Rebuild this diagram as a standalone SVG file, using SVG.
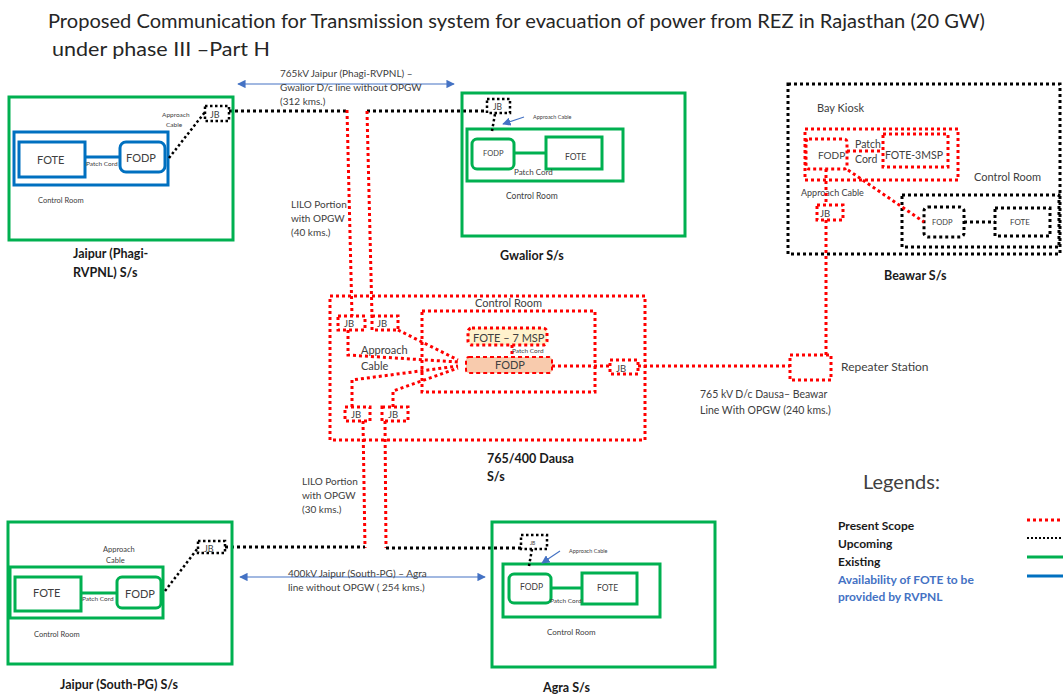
<svg xmlns="http://www.w3.org/2000/svg" width="1063" height="695" viewBox="0 0 1063 695">
<defs>
<style>
text{font-family:Lato,"Liberation Sans",sans-serif;fill:#404040}
.t{font-size:19.5px;fill:#262626}
.b{font-weight:bold;fill:#1a1a1a}
.g{fill:none;stroke:#00b050;stroke-width:3}
.bl{fill:none;stroke:#0070c0;stroke-width:3}
.r{fill:none;stroke:#ff0000;stroke-width:3;stroke-dasharray:3 3}
.k{fill:none;stroke:#000;stroke-width:3;stroke-dasharray:3 3}
.kt{fill:none;stroke:#000;stroke-width:2.5;stroke-dasharray:2.5 2.5}
.ar{stroke:#4472c4;stroke-width:1.2;fill:none}
</style>
<marker id="ah" viewBox="0 0 10 10" refX="9" refY="5" markerWidth="7" markerHeight="7" orient="auto-start-reverse">
<path d="M0,0 L10,5 L0,10 z" fill="#4472c4"/>
</marker>
</defs>
<rect width="1063" height="695" fill="#fff"/>

<text class="t" x="48" y="28" textLength="937" lengthAdjust="spacingAndGlyphs">Proposed Communication for Transmission system for evacuation of power from REZ in Rajasthan (20 GW)</text>
<text class="t" x="52" y="56" textLength="218" lengthAdjust="spacingAndGlyphs">under phase III –Part H</text>

<g id="connectors">
<path class="k" d="M229,111 H347"/>
<path class="k" d="M367,111 H487"/>
<path class="r" d="M347,110 L352,316"/>
<path class="r" d="M367,111 L372,316"/>
<path class="r" d="M363,421 L365,548"/>
<path class="r" d="M385,421 L386,548"/>
<path class="k" d="M225,547 H365"/>
<path class="k" d="M386,548 H522"/>
<path class="r" d="M552,366 H610"/>
<path class="r" d="M638,366 H790"/>
<path class="r" d="M826,355 V220"/>
<line class="ar" x1="238" y1="84" x2="454" y2="84" marker-start="url(#ah)" marker-end="url(#ah)"/>
<line class="ar" x1="240" y1="577" x2="485" y2="577" marker-start="url(#ah)" marker-end="url(#ah)"/>
</g>

<text x="280" y="77" font-size="10">765kV Jaipur (Phagi-RVPNL) –</text>
<text x="280" y="91" font-size="10">Gwalior  D/c line without OPGW</text>
<text x="280" y="105" font-size="10">(312 kms.)</text>
<text x="291" y="208" font-size="10">LILO Portion</text>
<text x="291" y="222" font-size="10">with OPGW</text>
<text x="291" y="236" font-size="10">(40 kms.)</text>
<text x="302" y="485" font-size="10">LILO Portion</text>
<text x="302" y="499" font-size="10">with OPGW</text>
<text x="302" y="513" font-size="10">(30 kms.)</text>
<text x="288" y="577" font-size="10">400kV Jaipur (South-PG) – Agra</text>
<text x="288" y="591" font-size="10">line without OPGW ( 254 kms.)</text>
<text x="700" y="398" font-size="10.5">765 kV D/c Dausa– Beawar</text>
<text x="700" y="414" font-size="10.5">Line With  OPGW (240 kms.)</text>

<g id="jaipur-phagi">
<rect class="g" x="9" y="97" width="224" height="143"/>
<rect class="bl" x="14" y="132" width="154" height="53"/>
<rect class="bl" x="19" y="142" width="66" height="35"/>
<rect class="bl" x="120" y="142" width="45" height="30" rx="6"/>
<line class="bl" x1="85" y1="157" x2="120" y2="157"/>
<text x="37" y="164" font-size="11">FOTE</text>
<text x="126" y="162" font-size="11">FODP</text>
<text x="86" y="166" font-size="6.5">Patch Cord</text>
<text x="38" y="203" font-size="7.5">Control Room</text>
<text x="162" y="117" font-size="6.5">Approach</text>
<text x="166" y="127" font-size="6.5">Cable</text>
<path class="kt" d="M205,106 H229 V121 H205 Z"/>
<text x="210" y="118" font-size="9">JB</text>
<path class="kt" d="M169,158 L205,112"/>
<text x="73" y="258" font-size="12.5" class="b">Jaipur (Phagi-</text>
<text x="73" y="277" font-size="12.5" class="b">RVPNL) S/s</text>
</g>

<g id="gwalior">
<rect class="g" x="462" y="93" width="223" height="143"/>
<rect class="g" x="467" y="129" width="156" height="52"/>
<rect class="g" x="472" y="139" width="42" height="30" rx="5"/>
<rect class="g" x="546" y="137" width="56" height="32"/>
<line class="g" x1="514" y1="153" x2="546" y2="153"/>
<text x="483" y="156" font-size="7.5">FODP</text>
<text x="565" y="160" font-size="8.5">FOTE</text>
<text x="514" y="175" font-size="8">Patch Cord</text>
<text x="506" y="199" font-size="8.5">Control Room</text>
<path class="kt" d="M487,99 H510 V113 H487 Z"/>
<text x="493" y="110" font-size="8.5">JB</text>
<path class="kt" d="M495,114 L492,131"/>
<line class="ar" x1="524" y1="117" x2="503" y2="124" marker-end="url(#ah)"/>
<text x="533" y="119" font-size="5.5">Approach Cable</text>
<text x="500" y="260" font-size="12.5" class="b">Gwalior S/s</text>
</g>

<g id="beawar">
<rect class="k" x="788" y="84" width="272" height="170"/>
<text x="817" y="112" font-size="11">Bay Kiosk</text>
<rect class="r" x="805" y="129" width="153" height="51"/>
<rect class="r" x="806" y="139" width="41" height="30" rx="3"/>
<rect class="r" x="883" y="134" width="65" height="33"/>
<path class="r" d="M847,151 H883"/>
<text x="818" y="159" font-size="10">FODP</text>
<text x="885" y="159" font-size="10.5">FOTE-3MSP</text>
<text x="855" y="148" font-size="10.5">Patch</text>
<text x="855" y="163" font-size="10.5">Cord</text>
<text x="974" y="181" font-size="11">Control Room</text>
<rect class="k" x="902" y="195" width="157" height="52"/>
<rect class="k" x="924" y="207" width="40" height="30" rx="4"/>
<rect class="k" x="995" y="208" width="55" height="28"/>
<path class="k" d="M964,222 H995"/>
<text x="932" y="225" font-size="7.5">FODP</text>
<text x="1010" y="225" font-size="8">FOTE</text>
<path class="r" d="M848,170 L924,222"/>
<text x="801" y="196" font-size="9">Approach Cable</text>
<rect class="r" x="817" y="205" width="26" height="15"/>
<text x="820" y="217" font-size="9.5">JB</text>
<path class="r" d="M826,169 V205"/>
<text x="884" y="280" font-size="12.5" class="b">Beawar S/s</text>
</g>

<g id="dausa">
<rect class="r" x="330" y="296" width="315" height="144"/>
<text x="475" y="307" font-size="11">Control Room</text>
<rect class="r" x="422" y="311" width="173" height="81"/>
<rect x="468" y="328" width="79" height="17" rx="4" fill="#fff2cc" stroke="#ff0000" stroke-width="3" stroke-dasharray="3 3"/>
<text x="473" y="342" font-size="11">FOTE – 7 MSP</text>
<path class="r" d="M512,345 V357"/>
<text x="512" y="353" font-size="6.5">Patch Cord</text>
<rect x="466" y="357" width="86" height="16" rx="3" fill="#f8cbad" stroke="#ff0000" stroke-width="2" stroke-dasharray="4 3"/>
<text x="495" y="369" font-size="11">FODP</text>
<rect class="r" x="338" y="316" width="27" height="14"/>
<text x="344" y="327" font-size="9.5">JB</text>
<rect class="r" x="372" y="316" width="26" height="14"/>
<text x="377" y="327" font-size="9.5">JB</text>
<rect class="r" x="345" y="407" width="25" height="14"/>
<text x="351" y="418" font-size="9.5">JB</text>
<rect class="r" x="382" y="407" width="26" height="14"/>
<text x="388" y="418" font-size="9.5">JB</text>
<rect class="r" x="610" y="360" width="28" height="14"/>
<text x="616" y="372" font-size="9.5">JB</text>
<path class="r" d="M348,330 V355 L458,362"/>
<path class="r" d="M398,330 L458,360"/>
<path class="r" d="M352,407 V380 L458,366"/>
<path class="r" d="M393,407 V391 L458,368"/>
<text x="361" y="354" font-size="11">Approach</text>
<text x="361" y="370" font-size="11">Cable</text>
<text x="487" y="463" font-size="12.5" class="b">765/400 Dausa</text>
<text x="487" y="481" font-size="12.5" class="b">S/s</text>
</g>

<g id="repeater">
<rect class="r" x="790" y="355" width="41" height="25"/>
<text x="841" y="371" font-size="12">Repeater Station</text>
</g>

<g id="jaipur-south">
<rect class="g" x="8" y="522" width="224" height="142"/>
<rect class="g" x="10" y="567" width="153" height="51"/>
<rect class="g" x="15" y="577" width="66" height="34"/>
<rect class="g" x="117" y="577" width="44" height="31" rx="5"/>
<line class="g" x1="81" y1="593" x2="117" y2="593"/>
<text x="33" y="597" font-size="11">FOTE</text>
<text x="125" y="598" font-size="11">FODP</text>
<text x="82" y="601" font-size="6.5">Patch Cord</text>
<text x="103" y="552" font-size="7.5">Approach</text>
<text x="106" y="563" font-size="7.5">Cable</text>
<text x="34" y="637" font-size="7.5">Control Room</text>
<path class="kt" d="M198,541 H225 V553 H198 Z"/>
<text x="204" y="552" font-size="9">JB</text>
<path class="kt" d="M165,591 L198,548"/>
<text x="60" y="689" font-size="12.5" class="b">Jaipur (South-PG) S/s</text>
</g>

<g id="agra">
<rect class="g" x="492" y="522" width="223" height="145"/>
<rect class="g" x="503" y="564" width="157" height="53"/>
<rect class="g" x="509" y="574" width="42" height="29" rx="5"/>
<rect class="g" x="582" y="573" width="55" height="31"/>
<line class="g" x1="551" y1="588" x2="582" y2="588"/>
<text x="520" y="590" font-size="8.5">FODP</text>
<text x="597" y="591" font-size="8.5">FOTE</text>
<text x="550" y="603" font-size="6.5">Patch Cord</text>
<text x="547" y="635" font-size="8">Control Room</text>
<path class="kt" d="M521,535 H547 V549 H521 Z"/>
<text x="530" y="545" font-size="5">JB</text>
<path class="kt" d="M532,549 L529,566"/>
<line class="ar" x1="560" y1="551" x2="542" y2="563" marker-end="url(#ah)"/>
<text x="569" y="553" font-size="5.5">Approach Cable</text>
<text x="543" y="692" font-size="12.5" class="b">Agra S/s</text>
</g>

<g id="legend">
<text x="863" y="489" font-size="20" fill="#262626">Legends:</text>
<text x="838" y="530" font-size="12" class="b">Present Scope</text>
<text x="838" y="548" font-size="12" class="b">Upcoming</text>
<text x="838" y="566" font-size="12" class="b">Existing</text>
<text x="838" y="584" font-size="12" font-weight="bold" style="fill:#4472c4">Availability of FOTE to be</text>
<text x="838" y="601" font-size="12" font-weight="bold" style="fill:#4472c4">provided by RVPNL</text>
<path class="r" d="M1027,520 H1063"/>
<path d="M1027,538 H1063" stroke="#000" stroke-width="2" stroke-dasharray="2 2"/>
<path d="M1027,557 H1063" stroke="#00b050" stroke-width="3"/>
<path d="M1027,576 H1063" stroke="#0070c0" stroke-width="3"/>
</g>
</svg>
